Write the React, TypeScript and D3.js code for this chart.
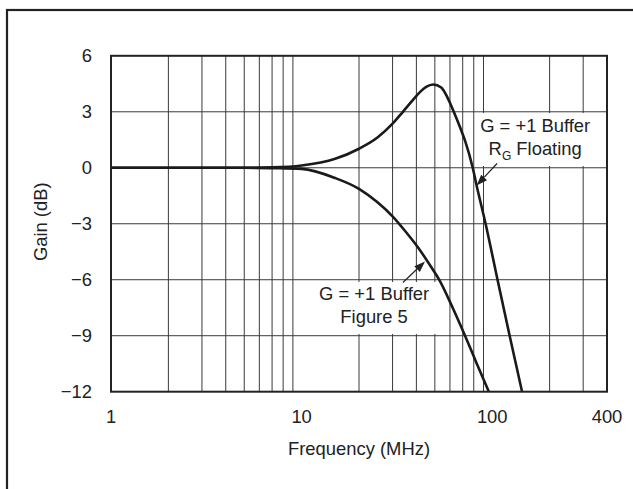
import React from "react";
import * as d3 from "d3";

// ---- data ----
const freqRG: number[] = [1, 2, 3, 5, 7, 10, 15, 20, 25, 30, 34, 38.5, 42, 45, 49, 54, 58, 62.5, 67.8, 72, 79, 82.8, 92.3, 106.6, 123.4, 143.4];
const gainRG: number[] = [0, 0, 0, 0, 0.02, 0.12, 0.48, 1.02, 1.62, 2.36, 3.0, 3.65, 4.08, 4.33, 4.46, 4.3, 3.8, 3.06, 2.17, 1.45, 0, -0.95, -3.0, -6.0, -9.0, -12.0];

const freqF5: number[] = [1, 3, 5, 7, 10, 15, 20, 25, 30, 35, 41, 47, 53, 62, 72, 83, 96];
const gainF5: number[] = [0, 0, 0, -0.02, -0.06, -0.55, -1.13, -1.85, -2.6, -3.4, -4.3, -5.2, -6.05, -7.5, -9.0, -10.5, -12.0];

const xTicks: number[] = [1, 10, 100, 400];
const xTickLabels: string[] = ["1", "10", "100", "400"];
const yTicks: number[] = [6, 3, 0, -3, -6, -9, -12];
const yTickLabels: string[] = ["6", "3", "0", "\u22123", "\u22126", "\u22129", "\u221212"];
const vGrid: number[] = [2, 3, 4, 5, 6, 7, 8, 9, 20, 30, 40, 50, 60, 70, 80, 90, 200, 300];
const hGrid: number[] = [3, 0, -3, -6, -9];

const xTitle = "Frequency (MHz)";
const yTitle = "Gain (dB)";

export default function App() {
  const W = 633, H = 489;
  const left = 111, right = 607, top = 55.8, bottom = 391.7;
  const x = d3.scaleLog().domain([1, 400]).range([left, right]);
  const y = d3.scaleLinear().domain([-12, 6]).range([bottom, top]);

  const line = d3
    .line<[number, number]>()
    .x((d) => x(d[0]))
    .y((d) => y(d[1]))
    .curve(d3.curveMonotoneX);

  const pathRG = line(freqRG.map((f, i) => [f, gainRG[i]] as [number, number])) || "";
  const pathF5 = line(freqF5.map((f, i) => [f, gainF5[i]] as [number, number])) || "";

  const font = "'Liberation Sans', Arial, Helvetica, sans-serif";
  const fs = 18.4;
  const ink = "#222";
  const gridC = "#3a3a3a";

  const arrow = (x1: number, y1: number, x2: number, y2: number) => {
    const ang = Math.atan2(y2 - y1, x2 - x1);
    const len = 11, wid = 4;
    const bx = x2 - len * Math.cos(ang), by = y2 - len * Math.sin(ang);
    const px = -Math.sin(ang) * wid, py = Math.cos(ang) * wid;
    return (
      <g>
        <line x1={x1} y1={y1} x2={bx} y2={by} stroke={ink} strokeWidth={1.2} />
        <polygon points={`${x2},${y2} ${bx + px},${by + py} ${bx - px},${by - py}`} fill={ink} />
      </g>
    );
  };

  return (
    <svg width={W} height={H} style={{ position: "absolute", left: 0, top: 0, background: "#fff" }}>
      <rect x={0} y={0} width={W} height={H} fill="#fff" />
      {/* outer frame (open at right/bottom beyond view) */}
      <rect x={7} y={10} width={W + 50} height={H + 50} fill="none" stroke={ink} strokeWidth={2.2} />

      {/* grid */}
      {vGrid.map((f) => (
        <line key={"v" + f} x1={x(f)} x2={x(f)} y1={top} y2={bottom} stroke={gridC} strokeWidth={1} />
      ))}
      {hGrid.map((g) => (
        <line key={"h" + g} x1={left} x2={right} y1={y(g)} y2={y(g)} stroke={gridC} strokeWidth={1} />
      ))}

      {/* annotation background boxes */}
      <rect x={478} y={113} width={120} height={53} fill="#fff" />
      <rect x={314} y={282} width={122} height={52} fill="#fff" />

      {/* curves */}
      <defs>
        <clipPath id="plotclip">
          <rect x={left} y={top} width={right - left} height={bottom - top} />
        </clipPath>
      </defs>
      <g clipPath="url(#plotclip)">
        <path d={pathRG} fill="none" stroke="#1a1a1a" strokeWidth={2.6} strokeLinejoin="round" />
        <path d={pathF5} fill="none" stroke="#1a1a1a" strokeWidth={2.6} strokeLinejoin="round" />
      </g>

      {/* plot frame */}
      <rect x={left} y={top} width={right - left} height={bottom - top} fill="none" stroke={ink} strokeWidth={2} />

      {/* tick labels */}
      {xTicks.map((t, i) => (
        <text key={"xt" + t} x={x(t)} y={423} textAnchor="middle" fontFamily={font} fontSize={fs} fill={ink}>
          {xTickLabels[i]}
        </text>
      ))}
      {yTicks.map((t, i) => (
        <text key={"yt" + t} x={92} y={y(t)} dy="0.36em" textAnchor="end" fontFamily={font} fontSize={fs} fill={ink}>
          {yTickLabels[i]}
        </text>
      ))}

      {/* axis titles */}
      <text x={(left + right) / 2} y={455} textAnchor="middle" fontFamily={font} fontSize={fs} fill={ink}>
        {xTitle}
      </text>
      <text
        transform={`translate(47, ${(top + bottom) / 2 - 2}) rotate(-90)`}
        textAnchor="middle"
        fontFamily={font}
        fontSize={fs}
        fill={ink}
      >
        {yTitle}
      </text>

      {/* annotations */}
      <text x={x(168)} y={131.7} textAnchor="middle" fontFamily={font} fontSize={fs} fill={ink}>
        G = +1 Buffer
      </text>
      <text x={x(168)} y={155} textAnchor="middle" fontFamily={font} fontSize={fs} fill={ink}>
        R<tspan fontSize={12} dy={5}>G</tspan>
        <tspan dy={-5}> Floating</tspan>
      </text>
      {arrow(x(106), y(0.23), x(82.8), y(-0.95))}

      <text x={x(24)} y={300} textAnchor="middle" fontFamily={font} fontSize={fs} fill={ink}>
        G = +1 Buffer
      </text>
      <text x={x(24)} y={323.3} textAnchor="middle" fontFamily={font} fontSize={fs} fill={ink}>
        Figure 5
      </text>
      {arrow(x(34), y(-6.15), x(44.4), y(-5.02))}
    </svg>
  );
}
